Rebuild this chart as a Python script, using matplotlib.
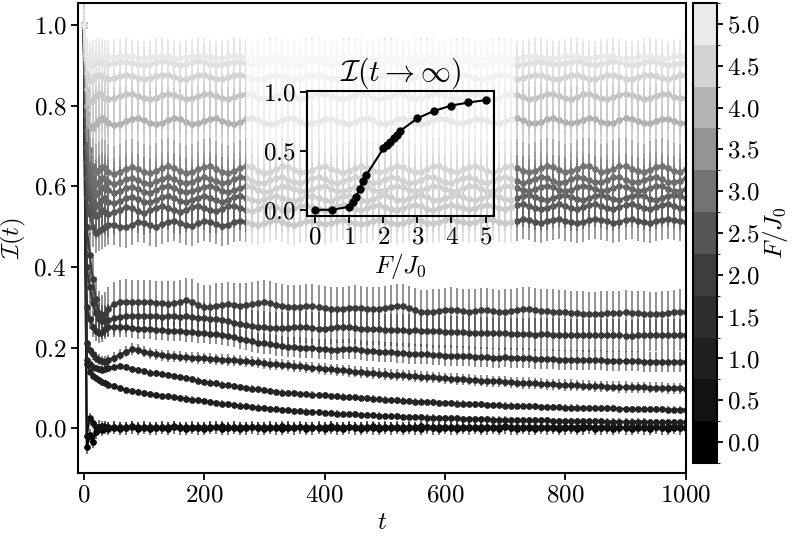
import numpy as np
import matplotlib
matplotlib.use('Agg')
import matplotlib.pyplot as plt
from matplotlib.colors import ListedColormap, BoundaryNorm
from matplotlib.cm import ScalarMappable
from matplotlib.patches import Rectangle

plt.rcParams['font.family'] = 'serif'
plt.rcParams['font.serif'] = ['cmr10']
plt.rcParams['mathtext.fontset'] = 'cm'
plt.rcParams['axes.formatter.use_mathtext'] = True
plt.rcParams['font.size'] = 18

# time grid (dense at the start, then every 10)
t = [0, 5, 10, 15, 20, 25, 30, 35, 40] + list(range(50, 1001, 10))

# drive strengths F/J0 of the curves
F_vals = [0.0, 0.5, 1.0, 1.1, 1.2, 1.3, 1.4, 1.5, 2.0, 2.1, 2.2, 2.3, 2.4, 2.5, 3.0, 3.5, 4.0, 4.5, 5.0]

# error bar half-heights per curve
errs = [0.016, 0.012, 0.008, 0.008, 0.014, 0.025, 0.04, 0.055,
        0.05, 0.055, 0.06, 0.06, 0.065, 0.07, 0.09, 0.09, 0.08, 0.06, 0.04]

I_00 = [1.0, -0.048, -0.018, -0.034, -0.010, 0.004, -0.004, 0.002, -0.002,
        0.001, -0.002, 0.0, 0.002, -0.001, 0.001, -0.002, 0.0, 0.001, -0.001, 0.002, 0.0,
        -0.001, 0.001, 0.0, -0.002, 0.001, 0.002, -0.001, 0.0, 0.001, -0.001, 0.0, 0.002,
        0.0, -0.001, 0.001, 0.0, -0.002, 0.001, 0.0, 0.002, -0.001, 0.0, 0.001, -0.001,
        0.001, 0.0, -0.001, 0.002, 0.0, -0.001, 0.001, 0.0, -0.002, 0.001, 0.0, 0.001,
        -0.001, 0.001, 0.0, -0.001, 0.002, 0.0, -0.001, 0.001, 0.0, -0.002, 0.001, 0.0,
        0.001, -0.001, 0.0, 0.001, -0.001, 0.002, 0.0, -0.001, 0.001, 0.0, -0.001, 0.001,
        0.0, 0.001, -0.002, 0.0, 0.001, -0.001, 0.0, 0.002, -0.001, 0.0, 0.001, -0.001,
        0.001, 0.0, -0.001, 0.001, 0.0, -0.001, 0.002, 0.0, -0.001, 0.001, 0.0, 0.0]
I_05 = [1.0, -0.020, 0.026, 0.012, 0.004, -0.002, 0.005, 0.003, 0.002,
        0.004, 0.002, 0.003, 0.005, 0.003, 0.002, 0.004, 0.003, 0.002, 0.004, 0.005, 0.003,
        0.002, 0.003, 0.004, 0.003, 0.002, 0.004, 0.005, 0.003, 0.002, 0.003, 0.004, 0.002,
        0.003, 0.004, 0.002, 0.003, 0.005, 0.004, 0.002, 0.003, 0.004, 0.003, 0.002, 0.004,
        0.005, 0.003, 0.002, 0.004, 0.003, 0.002, 0.003, 0.005, 0.004, 0.002, 0.003, 0.004,
        0.003, 0.002, 0.004, 0.005, 0.003, 0.002, 0.003, 0.004, 0.003, 0.002, 0.004, 0.003,
        0.002, 0.004, 0.003, 0.002, 0.004, 0.005, 0.003, 0.002, 0.003, 0.004, 0.003, 0.002,
        0.004, 0.003, 0.002, 0.003, 0.004, 0.003, 0.005, 0.004, 0.002, 0.003, 0.004, 0.003,
        0.002, 0.003, 0.004, 0.003, 0.002, 0.004, 0.003, 0.002, 0.003, 0.005, 0.004, 0.003]
I_10 = [1.0, 0.160, 0.140, 0.130, 0.125, 0.120, 0.115, 0.112, 0.108,
        0.104, 0.099, 0.095, 0.092, 0.089, 0.086, 0.084, 0.082, 0.080, 0.079, 0.077, 0.075,
        0.073, 0.071, 0.069, 0.067, 0.065, 0.063, 0.061, 0.059, 0.057, 0.056, 0.054, 0.053,
        0.051, 0.050, 0.048, 0.047, 0.045, 0.044, 0.043, 0.042, 0.041, 0.040, 0.039, 0.038,
        0.037, 0.036, 0.035, 0.035, 0.034, 0.033, 0.032, 0.032, 0.031, 0.030, 0.030, 0.029,
        0.028, 0.028, 0.027, 0.027, 0.026, 0.026, 0.025, 0.025, 0.024, 0.024, 0.023, 0.023,
        0.023, 0.022, 0.022, 0.021, 0.021, 0.021, 0.020, 0.020, 0.020, 0.019, 0.019, 0.019,
        0.019, 0.018, 0.018, 0.018, 0.018, 0.017, 0.017, 0.017, 0.017, 0.017, 0.016, 0.016,
        0.016, 0.016, 0.016, 0.016, 0.016, 0.015, 0.015, 0.015, 0.015, 0.015, 0.015, 0.015]
I_11 = [1.0, 0.170, 0.158, 0.152, 0.149, 0.146, 0.145, 0.147, 0.150,
        0.152, 0.154, 0.151, 0.147, 0.144, 0.141, 0.138, 0.136, 0.134, 0.132, 0.129, 0.127,
        0.124, 0.121, 0.118, 0.115, 0.113, 0.111, 0.108, 0.106, 0.104, 0.102, 0.100, 0.098,
        0.096, 0.094, 0.092, 0.090, 0.088, 0.087, 0.086, 0.085, 0.084, 0.083, 0.082, 0.081,
        0.080, 0.079, 0.078, 0.077, 0.076, 0.075, 0.074, 0.073, 0.072, 0.071, 0.070, 0.069,
        0.068, 0.067, 0.066, 0.066, 0.065, 0.064, 0.063, 0.063, 0.062, 0.061, 0.061, 0.060,
        0.059, 0.059, 0.058, 0.058, 0.057, 0.056, 0.056, 0.055, 0.055, 0.054, 0.054, 0.053,
        0.053, 0.052, 0.052, 0.051, 0.051, 0.051, 0.050, 0.050, 0.050, 0.049, 0.049, 0.049,
        0.048, 0.048, 0.048, 0.048, 0.047, 0.047, 0.047, 0.047, 0.046, 0.046, 0.046, 0.046]
I_12 = [1.0, 0.210, 0.195, 0.183, 0.175, 0.170, 0.166, 0.165, 0.168,
        0.175, 0.182, 0.190, 0.196, 0.195, 0.190, 0.186, 0.183, 0.181, 0.179, 0.178, 0.177,
        0.176, 0.175, 0.174, 0.173, 0.172, 0.171, 0.170, 0.169, 0.168, 0.167, 0.166, 0.165,
        0.163, 0.161, 0.159, 0.158, 0.157, 0.156, 0.154, 0.153, 0.151, 0.150, 0.148, 0.147,
        0.146, 0.144, 0.143, 0.142, 0.140, 0.139, 0.138, 0.137, 0.135, 0.134, 0.133, 0.132,
        0.131, 0.130, 0.129, 0.128, 0.127, 0.126, 0.125, 0.124, 0.123, 0.122, 0.121, 0.120,
        0.119, 0.118, 0.117, 0.116, 0.116, 0.115, 0.114, 0.113, 0.112, 0.112, 0.111, 0.110,
        0.109, 0.109, 0.108, 0.107, 0.107, 0.106, 0.105, 0.105, 0.104, 0.104, 0.103, 0.103,
        0.102, 0.102, 0.101, 0.101, 0.101, 0.100, 0.100, 0.100, 0.099, 0.099, 0.099, 0.098]
I_13 = [1.0, 0.300, 0.270, 0.250, 0.240, 0.235, 0.238, 0.245, 0.250,
        0.252, 0.251, 0.250, 0.248, 0.247, 0.246, 0.246, 0.244, 0.243, 0.242, 0.241, 0.240,
        0.239, 0.238, 0.237, 0.236, 0.234, 0.233, 0.231, 0.229, 0.226, 0.222, 0.218, 0.215,
        0.212, 0.210, 0.208, 0.205, 0.203, 0.202, 0.201, 0.200, 0.199, 0.198, 0.197, 0.196,
        0.195, 0.194, 0.196, 0.197, 0.196, 0.194, 0.192, 0.191, 0.190, 0.189, 0.188, 0.187,
        0.186, 0.185, 0.184, 0.183, 0.183, 0.182, 0.181, 0.180, 0.180, 0.179, 0.178, 0.178,
        0.177, 0.177, 0.176, 0.175, 0.175, 0.176, 0.175, 0.174, 0.173, 0.173, 0.172, 0.172,
        0.171, 0.171, 0.170, 0.170, 0.170, 0.169, 0.169, 0.168, 0.168, 0.168, 0.167, 0.167,
        0.167, 0.166, 0.166, 0.166, 0.165, 0.165, 0.165, 0.164, 0.164, 0.164, 0.165, 0.165]
I_14 = [1.0, 0.400, 0.350, 0.310, 0.285, 0.270, 0.265, 0.265, 0.268,
        0.272, 0.275, 0.277, 0.278, 0.279, 0.278, 0.277, 0.277, 0.276, 0.277, 0.277, 0.276,
        0.277, 0.276, 0.274, 0.272, 0.271, 0.270, 0.269, 0.266, 0.262, 0.258, 0.255, 0.253,
        0.251, 0.250, 0.249, 0.248, 0.248, 0.249, 0.250, 0.251, 0.250, 0.248, 0.247, 0.247,
        0.248, 0.250, 0.251, 0.250, 0.249, 0.247, 0.246, 0.245, 0.245, 0.244, 0.244, 0.243,
        0.243, 0.242, 0.243, 0.242, 0.241, 0.240, 0.240, 0.239, 0.239, 0.238, 0.238, 0.237,
        0.237, 0.236, 0.236, 0.236, 0.235, 0.235, 0.234, 0.234, 0.233, 0.233, 0.232, 0.233,
        0.233, 0.232, 0.232, 0.231, 0.231, 0.231, 0.230, 0.230, 0.231, 0.231, 0.230, 0.230,
        0.230, 0.229, 0.229, 0.230, 0.230, 0.231, 0.231, 0.230, 0.230, 0.230, 0.231, 0.231]
I_15 = [1.0, 0.500, 0.430, 0.370, 0.320, 0.285, 0.275, 0.282, 0.295,
        0.308, 0.313, 0.314, 0.313, 0.312, 0.313, 0.312, 0.311, 0.310, 0.309, 0.310, 0.312,
        0.317, 0.314, 0.306, 0.300, 0.301, 0.304, 0.306, 0.307, 0.305, 0.304, 0.305, 0.307,
        0.310, 0.312, 0.310, 0.306, 0.303, 0.301, 0.300, 0.301, 0.303, 0.302, 0.300, 0.298,
        0.296, 0.295, 0.296, 0.298, 0.299, 0.298, 0.296, 0.295, 0.296, 0.298, 0.301, 0.303,
        0.302, 0.298, 0.292, 0.288, 0.287, 0.289, 0.291, 0.293, 0.294, 0.292, 0.290, 0.289,
        0.290, 0.292, 0.292, 0.290, 0.288, 0.289, 0.291, 0.293, 0.295, 0.295, 0.293, 0.291,
        0.290, 0.289, 0.288, 0.287, 0.286, 0.285, 0.284, 0.283, 0.283, 0.284, 0.285, 0.285,
        0.286, 0.287, 0.286, 0.285, 0.284, 0.283, 0.283, 0.284, 0.286, 0.288, 0.289, 0.289]
I_20 = [1.0, 0.570, 0.530, 0.500, 0.485, 0.490, 0.495, 0.500, 0.505,
        0.505, 0.500, 0.498, 0.505, 0.512, 0.510, 0.503, 0.500, 0.506, 0.512, 0.515, 0.510,
        0.505, 0.502, 0.508, 0.514, 0.512, 0.506, 0.502, 0.505, 0.511, 0.515, 0.512, 0.507,
        0.504, 0.508, 0.513, 0.516, 0.512, 0.507, 0.505, 0.509, 0.514, 0.513, 0.508, 0.506,
        0.509, 0.514, 0.516, 0.512, 0.508, 0.506, 0.510, 0.515, 0.517, 0.513, 0.509, 0.507,
        0.510, 0.515, 0.518, 0.514, 0.510, 0.508, 0.511, 0.516, 0.518, 0.515, 0.511, 0.509,
        0.512, 0.516, 0.519, 0.516, 0.512, 0.509, 0.511, 0.515, 0.518, 0.516, 0.512, 0.510,
        0.513, 0.517, 0.519, 0.515, 0.511, 0.509, 0.512, 0.516, 0.519, 0.517, 0.513, 0.510,
        0.512, 0.516, 0.518, 0.515, 0.511, 0.510, 0.513, 0.517, 0.519, 0.516, 0.513, 0.512]
I_21 = [1.0, 0.620, 0.570, 0.540, 0.525, 0.530, 0.540, 0.535, 0.530,
        0.535, 0.542, 0.548, 0.545, 0.538, 0.534, 0.540, 0.547, 0.550, 0.546, 0.540, 0.537,
        0.542, 0.549, 0.551, 0.546, 0.540, 0.538, 0.544, 0.550, 0.552, 0.547, 0.541, 0.539,
        0.544, 0.550, 0.552, 0.548, 0.542, 0.540, 0.545, 0.551, 0.553, 0.548, 0.543, 0.541,
        0.546, 0.551, 0.553, 0.549, 0.543, 0.541, 0.546, 0.552, 0.554, 0.549, 0.544, 0.542,
        0.546, 0.551, 0.554, 0.550, 0.544, 0.542, 0.547, 0.552, 0.554, 0.550, 0.545, 0.543,
        0.547, 0.552, 0.554, 0.550, 0.545, 0.543, 0.548, 0.553, 0.555, 0.551, 0.546, 0.543,
        0.547, 0.552, 0.555, 0.551, 0.545, 0.543, 0.548, 0.553, 0.555, 0.551, 0.546, 0.544,
        0.548, 0.553, 0.555, 0.551, 0.546, 0.544, 0.548, 0.553, 0.555, 0.551, 0.546, 0.545]
I_22 = [1.0, 0.660, 0.600, 0.565, 0.550, 0.555, 0.565, 0.570, 0.562,
        0.558, 0.563, 0.570, 0.574, 0.569, 0.562, 0.560, 0.566, 0.573, 0.575, 0.570, 0.564,
        0.561, 0.566, 0.572, 0.576, 0.572, 0.565, 0.562, 0.567, 0.574, 0.576, 0.571, 0.565,
        0.563, 0.568, 0.574, 0.577, 0.572, 0.566, 0.563, 0.568, 0.575, 0.577, 0.571, 0.566,
        0.564, 0.570, 0.575, 0.577, 0.572, 0.566, 0.564, 0.569, 0.575, 0.578, 0.573, 0.567,
        0.565, 0.570, 0.576, 0.578, 0.573, 0.567, 0.565, 0.570, 0.576, 0.578, 0.573, 0.568,
        0.566, 0.571, 0.576, 0.578, 0.574, 0.568, 0.565, 0.570, 0.576, 0.579, 0.574, 0.568,
        0.566, 0.571, 0.577, 0.579, 0.574, 0.568, 0.566, 0.571, 0.577, 0.579, 0.574, 0.569,
        0.566, 0.572, 0.577, 0.579, 0.575, 0.569, 0.566, 0.571, 0.577, 0.579, 0.575, 0.570]
I_23 = [1.0, 0.700, 0.630, 0.595, 0.580, 0.585, 0.595, 0.598, 0.590,
        0.584, 0.588, 0.595, 0.598, 0.593, 0.586, 0.584, 0.590, 0.597, 0.600, 0.596, 0.589,
        0.585, 0.587, 0.593, 0.599, 0.601, 0.596, 0.589, 0.586, 0.590, 0.596, 0.600, 0.597,
        0.590, 0.586, 0.589, 0.595, 0.600, 0.599, 0.593, 0.588, 0.588, 0.594, 0.599, 0.600,
        0.594, 0.588, 0.587, 0.592, 0.598, 0.601, 0.597, 0.590, 0.587, 0.591, 0.597, 0.601,
        0.598, 0.591, 0.587, 0.590, 0.596, 0.601, 0.599, 0.593, 0.588, 0.589, 0.595, 0.600,
        0.600, 0.594, 0.588, 0.588, 0.594, 0.600, 0.601, 0.596, 0.590, 0.588, 0.592, 0.598,
        0.601, 0.597, 0.591, 0.588, 0.591, 0.597, 0.601, 0.598, 0.592, 0.588, 0.590, 0.596,
        0.600, 0.599, 0.593, 0.589, 0.590, 0.595, 0.600, 0.600, 0.594, 0.589, 0.589, 0.594]
I_24 = [1.0, 0.740, 0.660, 0.620, 0.605, 0.610, 0.620, 0.618, 0.610,
        0.606, 0.610, 0.617, 0.620, 0.615, 0.608, 0.606, 0.612, 0.619, 0.622, 0.617, 0.610,
        0.607, 0.611, 0.618, 0.622, 0.619, 0.612, 0.608, 0.610, 0.617, 0.622, 0.621, 0.614,
        0.609, 0.609, 0.615, 0.621, 0.622, 0.616, 0.610, 0.609, 0.614, 0.620, 0.623, 0.618,
        0.611, 0.608, 0.612, 0.619, 0.623, 0.620, 0.613, 0.609, 0.611, 0.618, 0.622, 0.620,
        0.614, 0.609, 0.610, 0.616, 0.622, 0.622, 0.616, 0.610, 0.609, 0.615, 0.621, 0.622,
        0.617, 0.611, 0.609, 0.613, 0.620, 0.623, 0.619, 0.612, 0.609, 0.612, 0.619, 0.623,
        0.620, 0.613, 0.609, 0.611, 0.617, 0.622, 0.621, 0.615, 0.610, 0.610, 0.616, 0.622,
        0.622, 0.616, 0.610, 0.610, 0.615, 0.621, 0.622, 0.617, 0.611, 0.610, 0.614, 0.620]
I_25 = [1.0, 0.780, 0.690, 0.650, 0.635, 0.640, 0.648, 0.645, 0.636,
        0.631, 0.636, 0.644, 0.648, 0.643, 0.635, 0.632, 0.638, 0.646, 0.650, 0.645, 0.637,
        0.632, 0.635, 0.642, 0.648, 0.649, 0.643, 0.636, 0.633, 0.638, 0.645, 0.650, 0.647,
        0.639, 0.634, 0.636, 0.643, 0.649, 0.648, 0.641, 0.635, 0.635, 0.641, 0.648, 0.650,
        0.644, 0.637, 0.634, 0.639, 0.646, 0.650, 0.646, 0.639, 0.635, 0.638, 0.645, 0.650,
        0.648, 0.641, 0.635, 0.636, 0.643, 0.649, 0.649, 0.643, 0.637, 0.636, 0.642, 0.648,
        0.650, 0.645, 0.638, 0.635, 0.640, 0.647, 0.650, 0.646, 0.639, 0.635, 0.639, 0.646,
        0.650, 0.648, 0.641, 0.636, 0.637, 0.644, 0.650, 0.649, 0.642, 0.636, 0.637, 0.644,
        0.649, 0.650, 0.644, 0.638, 0.636, 0.641, 0.648, 0.650, 0.645, 0.638, 0.636, 0.642]
I_30 = [1.0, 0.800, 0.750, 0.745, 0.755, 0.765, 0.770, 0.765, 0.757,
        0.752, 0.755, 0.762, 0.768, 0.770, 0.764, 0.757, 0.754, 0.758, 0.765, 0.770, 0.767,
        0.760, 0.755, 0.756, 0.762, 0.768, 0.769, 0.763, 0.756, 0.754, 0.759, 0.766, 0.769,
        0.765, 0.758, 0.754, 0.757, 0.764, 0.769, 0.767, 0.760, 0.755, 0.756, 0.762, 0.768,
        0.768, 0.762, 0.756, 0.755, 0.760, 0.767, 0.769, 0.764, 0.757, 0.755, 0.759, 0.766,
        0.769, 0.765, 0.758, 0.755, 0.758, 0.764, 0.769, 0.767, 0.761, 0.756, 0.757, 0.763,
        0.768, 0.768, 0.762, 0.757, 0.756, 0.761, 0.767, 0.769, 0.764, 0.758, 0.756, 0.760,
        0.766, 0.769, 0.765, 0.759, 0.756, 0.759, 0.765, 0.769, 0.766, 0.760, 0.756, 0.758,
        0.764, 0.769, 0.767, 0.761, 0.757, 0.757, 0.762, 0.768, 0.768, 0.763, 0.758, 0.757]
I_35 = [1.0, 0.840, 0.810, 0.815, 0.825, 0.830, 0.826, 0.820, 0.817,
        0.818, 0.823, 0.828, 0.829, 0.824, 0.818, 0.816, 0.820, 0.826, 0.830, 0.827, 0.821,
        0.817, 0.818, 0.824, 0.829, 0.829, 0.823, 0.818, 0.817, 0.821, 0.827, 0.830, 0.826,
        0.820, 0.816, 0.819, 0.825, 0.830, 0.828, 0.822, 0.817, 0.818, 0.823, 0.829, 0.830,
        0.825, 0.819, 0.817, 0.821, 0.827, 0.830, 0.826, 0.820, 0.817, 0.819, 0.825, 0.830,
        0.828, 0.822, 0.817, 0.818, 0.824, 0.829, 0.829, 0.823, 0.818, 0.817, 0.822, 0.828,
        0.830, 0.826, 0.820, 0.817, 0.820, 0.826, 0.830, 0.827, 0.821, 0.817, 0.819, 0.825,
        0.829, 0.829, 0.824, 0.819, 0.817, 0.822, 0.828, 0.830, 0.825, 0.819, 0.817, 0.821,
        0.827, 0.830, 0.827, 0.821, 0.817, 0.819, 0.825, 0.830, 0.828, 0.822, 0.818, 0.819]
I_40 = [1.0, 0.880, 0.862, 0.866, 0.874, 0.877, 0.873, 0.868, 0.867,
        0.869, 0.873, 0.876, 0.874, 0.869, 0.866, 0.868, 0.873, 0.877, 0.875, 0.870, 0.866,
        0.867, 0.871, 0.876, 0.876, 0.872, 0.867, 0.866, 0.870, 0.875, 0.877, 0.873, 0.868,
        0.866, 0.869, 0.874, 0.877, 0.874, 0.869, 0.866, 0.868, 0.873, 0.877, 0.875, 0.870,
        0.866, 0.867, 0.872, 0.876, 0.876, 0.871, 0.867, 0.867, 0.871, 0.876, 0.876, 0.872,
        0.867, 0.866, 0.870, 0.875, 0.877, 0.873, 0.868, 0.866, 0.869, 0.874, 0.877, 0.874,
        0.869, 0.866, 0.868, 0.873, 0.877, 0.875, 0.870, 0.866, 0.868, 0.873, 0.877, 0.875,
        0.870, 0.867, 0.867, 0.872, 0.876, 0.876, 0.872, 0.867, 0.867, 0.871, 0.876, 0.876,
        0.872, 0.867, 0.866, 0.870, 0.875, 0.877, 0.873, 0.868, 0.866, 0.870, 0.875, 0.877]
I_45 = [1.0, 0.910, 0.900, 0.902, 0.908, 0.909, 0.906, 0.903, 0.903,
        0.905, 0.908, 0.909, 0.906, 0.902, 0.901, 0.904, 0.908, 0.910, 0.907, 0.903, 0.901,
        0.903, 0.907, 0.910, 0.908, 0.904, 0.901, 0.902, 0.906, 0.909, 0.909, 0.905, 0.902,
        0.902, 0.905, 0.909, 0.910, 0.906, 0.902, 0.901, 0.904, 0.908, 0.910, 0.907, 0.903,
        0.901, 0.903, 0.907, 0.910, 0.908, 0.904, 0.901, 0.902, 0.906, 0.909, 0.909, 0.905,
        0.902, 0.902, 0.905, 0.909, 0.910, 0.906, 0.902, 0.901, 0.904, 0.908, 0.910, 0.907,
        0.903, 0.901, 0.903, 0.907, 0.910, 0.908, 0.904, 0.901, 0.902, 0.906, 0.909, 0.909,
        0.905, 0.902, 0.902, 0.905, 0.909, 0.910, 0.906, 0.902, 0.901, 0.904, 0.908, 0.910,
        0.907, 0.903, 0.901, 0.903, 0.907, 0.910, 0.908, 0.904, 0.901, 0.902, 0.906, 0.909]
I_50 = [1.0, 0.925, 0.918, 0.920, 0.923, 0.924, 0.922, 0.920, 0.920,
        0.921, 0.923, 0.924, 0.922, 0.919, 0.918, 0.920, 0.923, 0.924, 0.922, 0.919, 0.918,
        0.920, 0.922, 0.924, 0.923, 0.920, 0.918, 0.919, 0.922, 0.924, 0.923, 0.920, 0.918,
        0.919, 0.921, 0.924, 0.924, 0.921, 0.919, 0.918, 0.921, 0.923, 0.924, 0.921, 0.919,
        0.918, 0.920, 0.923, 0.924, 0.922, 0.919, 0.918, 0.920, 0.923, 0.924, 0.922, 0.919,
        0.918, 0.919, 0.922, 0.924, 0.923, 0.920, 0.918, 0.919, 0.922, 0.924, 0.923, 0.920,
        0.918, 0.919, 0.921, 0.924, 0.924, 0.921, 0.919, 0.918, 0.921, 0.923, 0.924, 0.921,
        0.919, 0.918, 0.920, 0.923, 0.924, 0.922, 0.919, 0.918, 0.920, 0.923, 0.924, 0.922,
        0.919, 0.918, 0.919, 0.922, 0.924, 0.923, 0.920, 0.918, 0.919, 0.922, 0.924, 0.923]

curves = [I_00, I_05, I_10, I_11, I_12, I_13, I_14, I_15, I_20, I_21, I_22,
          I_23, I_24, I_25, I_30, I_35, I_40, I_45, I_50]

# inset: long-time value vs F/J0
I_inf = [0.0, 0.0, 0.026, 0.062, 0.11, 0.176, 0.24, 0.295, 0.52, 0.55, 0.577,
         0.605, 0.636, 0.67, 0.776, 0.84, 0.884, 0.91, 0.93]

# colorbar levels and their grays
bar_levels = [0.0, 0.5, 1.0, 1.5, 2.0, 2.5, 3.0, 3.5, 4.0, 4.5, 5.0]
bar_grays = ['#000000', '#121212', '#202020', '#2e2e2e', '#3c3c3c', '#555555',
             '#727272', '#959595', '#b5b5b5', '#d3d3d3', '#ebebeb']
# grey level of the curves as they look in the plot (0 black, 1 white)
line_gray = [0.0, 0.07, 0.12, 0.23, 0.30, 0.45, 0.68, 0.76, 0.82, 0.87, 0.91]

cmap_disc = ListedColormap(bar_grays)
bounds = [b - 0.25 for b in bar_levels] + [bar_levels[-1] + 0.25]
norm = BoundaryNorm(bounds, cmap_disc.N)

fig = plt.figure(figsize=(7.93, 5.36), dpi=100)
ax = fig.add_axes([0.098, 0.117, 0.7667, 0.877])

for F, y, e in zip(F_vals, curves, errs):
    g = float(np.interp(F, bar_levels, line_gray))
    c = (g, g, g)
    ax.errorbar(t, y, yerr=e, fmt='none', ecolor=c, elinewidth=1.3, alpha=0.6)
    ax.plot(t, y, '-o', color=c, ms=3.8, lw=1.5)

ax.set_xlim(-10, 1000)
ax.set_ylim(-0.112, 1.054)
ax.set_xticks([0, 200, 400, 600, 800, 1000])
ax.set_yticks([0.0, 0.2, 0.4, 0.6, 0.8, 1.0])
ax.set_xlabel(r'$t$', labelpad=4)
ax.set_ylabel(r'$\mathcal{I}(t)$', labelpad=4)
ax.tick_params(length=5, width=1.3, pad=3)
for s in ax.spines.values():
    s.set_linewidth(1.5)

# white haze behind the inset
ax.add_patch(Rectangle((0.3102, 0.4925), 0.3392, 0.433, transform=fig.transFigure,
                       fc='white', ec='none', alpha=0.7, zorder=10, clip_on=False))

# colorbar
cax = fig.add_axes([0.8739, 0.1362, 0.0303, 0.8582])
sm = ScalarMappable(norm=norm, cmap=cmap_disc)
cb = fig.colorbar(sm, cax=cax, ticks=bar_levels)
cb.set_label(r'$F/J_0$', labelpad=1)
cb.outline.set_linewidth(1.5)
cax.tick_params(length=4, width=1.3, pad=3)

# inset
axi = fig.add_axes([0.3868, 0.5976, 0.2362, 0.2332])
axi.set_facecolor('none')
axi.plot(F_vals, I_inf, '-o', color='k', ms=5, lw=1.5)
axi.set_xlim(-0.25, 5.25)
axi.set_ylim(-0.05, 1.01)
axi.set_xticks([0, 1, 2, 3, 4, 5])
axi.set_yticks([0.0, 0.5, 1.0])
axi.set_title(r'$\mathcal{I}(t\to\infty)$', pad=6)
axi.set_xlabel(r'$F/J_0$', labelpad=2)
axi.tick_params(length=5, width=1.3, pad=3)
for s in axi.spines.values():
    s.set_linewidth(1.5)

fig.savefig('out.png', dpi=100)
